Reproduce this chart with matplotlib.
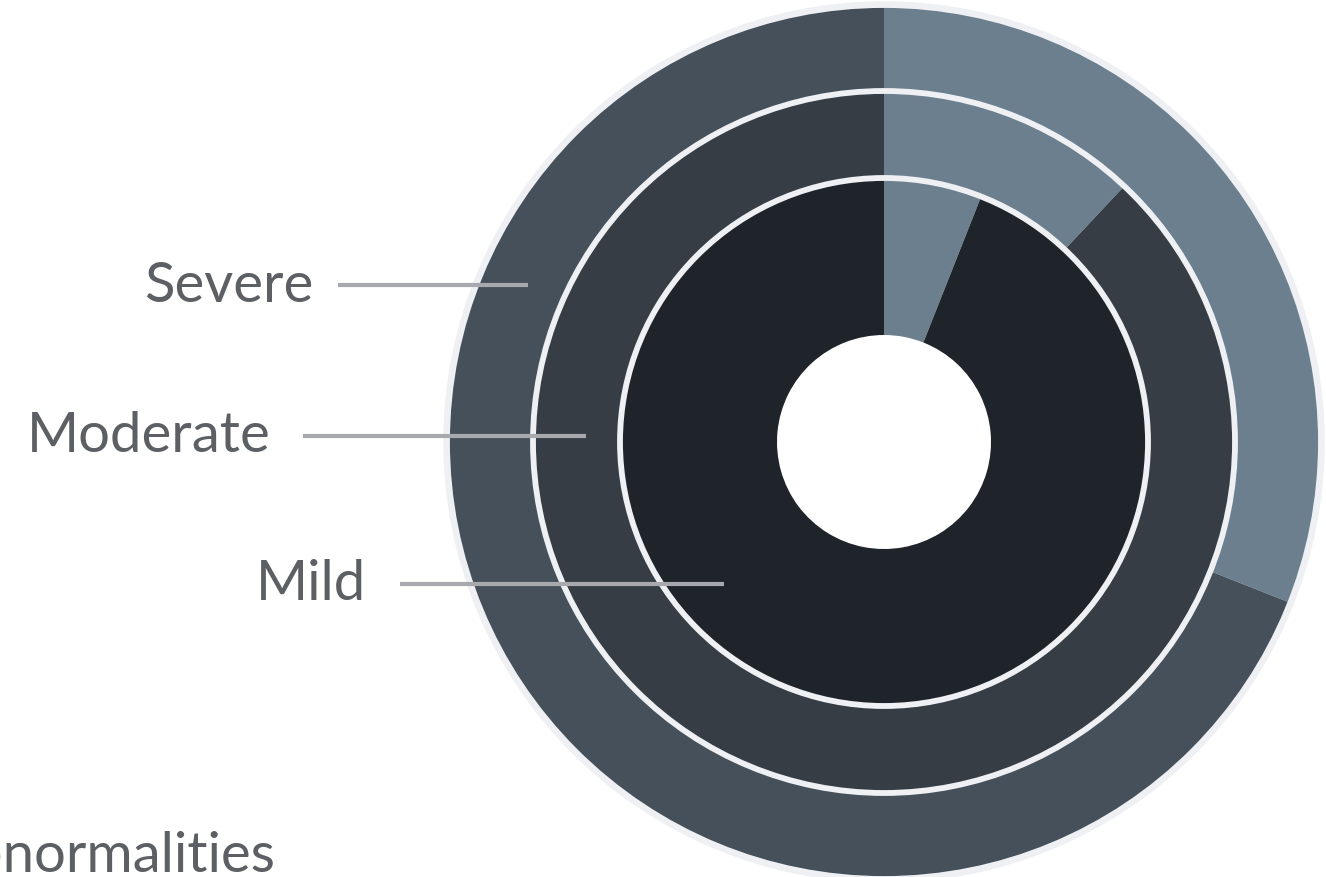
import matplotlib
matplotlib.use("Agg")
import matplotlib.pyplot as plt
from matplotlib.patches import Circle

# severity levels, outer ring to inner ring
levels = ["Severe", "Moderate", "Mild"]
share = [31, 12, 6]          # % highlighted (light segment, clockwise from top)
title = "Abnormalities"

LIGHT = "#6b7f8f"
DARK = ["#46505a", "#363d45", "#1f242a"]
EDGE = "#eef0f3"
TXT = "#5c5f63"
LINE = "#a8a9ae"

W, H = 1326, 878
fig = plt.figure(figsize=(W / 100, H / 100), dpi=100)
ax = fig.add_axes([0, 0, 1, 1])

cx, cy = 884, H - 443
rings = [(437, 86), (351, 87), (264, 157)]  # (outer radius, width) in px

for (r, w), s, dk in zip(rings, share, DARK):
    ax.pie([s, 100 - s], radius=r, center=(cx, cy), startangle=90,
           counterclock=False, colors=[LIGHT, dk],
           wedgeprops=dict(width=w, linewidth=0, antialiased=True))

# ring separators
for r, w in rings:
    ax.add_patch(Circle((cx, cy), r, fill=False, ec=EDGE, lw=4.2, zorder=5))
ax.add_patch(Circle((cx, cy), rings[0][0] + 1.5, fill=False, ec=EDGE, lw=3.2, zorder=5))

# labels with leader lines (px coords)
lab_pos = [(313, 286, 338, 528), (271, 437, 303, 586), (366, 585, 400, 724)]
for name, (tx, ty, x0, x1) in zip(levels, lab_pos):
    ax.plot([x0, x1], [H - ty, H - ty], color=LINE, lw=3, solid_capstyle="butt", zorder=6)
    ax.text(tx, H - ty, name, ha="right", va="center", fontsize=40.5,
            family="Lato", weight="normal", color=TXT, zorder=7)

# title runs off the left edge, as in the source
ax.text(276, H - 872, title, ha="right", va="baseline", fontsize=40.5,
        family="Lato", weight="normal", color=TXT)

ax.set_xlim(0, W)
ax.set_ylim(0, H)
ax.set_aspect("equal")
ax.axis("off")
fig.savefig("out.png", dpi=100)
